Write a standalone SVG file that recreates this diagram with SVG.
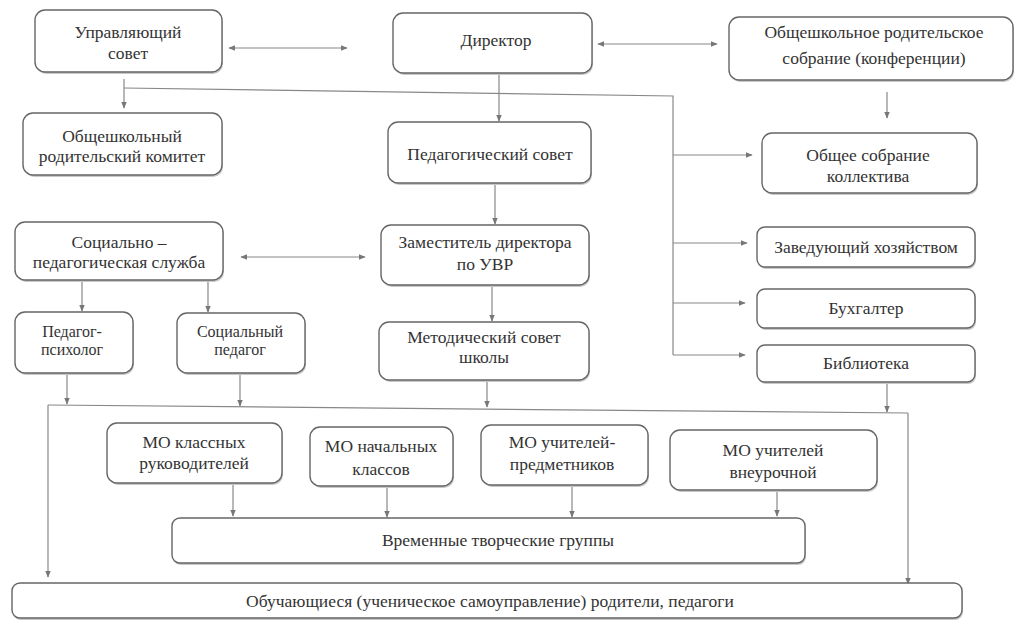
<svg xmlns="http://www.w3.org/2000/svg" width="1019" height="632" viewBox="0 0 1019 632">
<defs>
<marker id="ah" viewBox="0 0 10 10" refX="9" refY="5" markerWidth="7" markerHeight="7" orient="auto-start-reverse" markerUnits="userSpaceOnUse">
<path d="M0,1 L10,5 L0,9 z" fill="#777"/>
</marker>
</defs>
<rect width="1019" height="632" fill="#fff"/>

<g id="connectors" fill="none" stroke="#888" stroke-width="1.2">
<path marker-start="url(#ah)" marker-end="url(#ah)" d="M229,48 H347"/>
<path marker-start="url(#ah)" marker-end="url(#ah)" d="M598,44 H717"/>
<path marker-end="url(#ah)" d="M124,79 V108"/>
<path d="M124,88 L673,96 V355"/>
<path marker-end="url(#ah)" d="M499,73 V121"/>
<path marker-end="url(#ah)" d="M887,92 V118"/>
<path marker-end="url(#ah)" d="M673,155 H752"/>
<path marker-end="url(#ah)" d="M673,243 H747"/>
<path marker-end="url(#ah)" d="M673,303 H745"/>
<path marker-end="url(#ah)" d="M673,355 H745"/>
<path marker-end="url(#ah)" d="M495,183 V224"/>
<path marker-start="url(#ah)" marker-end="url(#ah)" d="M241,257 H365"/>
<path marker-end="url(#ah)" d="M82,280 V311"/>
<path marker-end="url(#ah)" d="M208,280 V312"/>
<path marker-end="url(#ah)" d="M492,285 V321"/>
<path marker-end="url(#ah)" d="M67,373 V404"/>
<path marker-end="url(#ah)" d="M240,373 V406"/>
<path marker-end="url(#ah)" d="M487,380 V407"/>
<path marker-end="url(#ah)" d="M887,382 V412"/>
<path d="M48,405 L908,413"/>
<path marker-end="url(#ah)" d="M48,405 V577"/>
<path marker-end="url(#ah)" d="M908,413 V584"/>
<path marker-end="url(#ah)" d="M233,483 V516"/>
<path marker-end="url(#ah)" d="M387,486 V517"/>
<path marker-end="url(#ah)" d="M572,485 V517"/>
<path marker-end="url(#ah)" d="M777,490 V516"/>
</g>

<g id="upr_sovet"><rect fill="#c8c8c8" x="36" y="12" width="187" height="62" rx="10"/><rect fill="#fff" stroke="#666" stroke-width="1.4" x="35" y="10" width="187" height="62" rx="10"/>
<text font-family="Liberation Serif" font-size="17.5" fill="#333" text-anchor="middle" x="128" y="38">Управляющий</text><text font-family="Liberation Serif" font-size="17.5" fill="#333" text-anchor="middle" x="128" y="59">совет</text></g>
<g id="direktor"><rect fill="#c8c8c8" x="394" y="15" width="199" height="60" rx="10"/><rect fill="#fff" stroke="#666" stroke-width="1.4" x="393" y="13" width="199" height="60" rx="10"/>
<text font-family="Liberation Serif" font-size="17.5" fill="#333" text-anchor="middle" x="496" y="46">Директор</text></g>
<g id="rod_sobranie"><rect fill="#c8c8c8" x="730" y="19" width="284" height="63" rx="10"/><rect fill="#fff" stroke="#666" stroke-width="1.4" x="729" y="17" width="284" height="63" rx="10"/>
<text font-family="Liberation Serif" font-size="17.5" fill="#333" text-anchor="middle" x="874" y="38">Общешкольное родительское</text><text font-family="Liberation Serif" font-size="17.5" fill="#333" text-anchor="middle" x="874" y="64">собрание (конференции)</text></g>
<g id="rod_komitet"><rect fill="#c8c8c8" x="24" y="115" width="199" height="62" rx="10"/><rect fill="#fff" stroke="#666" stroke-width="1.4" x="23" y="113" width="199" height="62" rx="10"/>
<text font-family="Liberation Serif" font-size="17.5" fill="#333" text-anchor="middle" x="122" y="142">Общешкольный</text><text font-family="Liberation Serif" font-size="17.5" fill="#333" text-anchor="middle" x="122" y="162">родительский комитет</text></g>
<g id="ped_sovet"><rect fill="#c8c8c8" x="389" y="124" width="203" height="61" rx="10"/><rect fill="#fff" stroke="#666" stroke-width="1.4" x="388" y="122" width="203" height="61" rx="10"/>
<text font-family="Liberation Serif" font-size="17.5" fill="#333" text-anchor="middle" x="490" y="160">Педагогический совет</text></g>
<g id="obsh_sobranie"><rect fill="#c8c8c8" x="763" y="135" width="215" height="60" rx="10"/><rect fill="#fff" stroke="#666" stroke-width="1.4" x="762" y="133" width="215" height="60" rx="10"/>
<text font-family="Liberation Serif" font-size="17.5" fill="#333" text-anchor="middle" x="868" y="161">Общее собрание</text><text font-family="Liberation Serif" font-size="17.5" fill="#333" text-anchor="middle" x="868" y="182">коллектива</text></g>
<g id="soc_ped_sluzhba"><rect fill="#c8c8c8" x="16" y="224" width="208" height="58" rx="10"/><rect fill="#fff" stroke="#666" stroke-width="1.4" x="15" y="222" width="208" height="58" rx="10"/>
<text font-family="Liberation Serif" font-size="17.5" fill="#333" text-anchor="middle" x="119" y="248">Социально –</text><text font-family="Liberation Serif" font-size="17.5" fill="#333" text-anchor="middle" x="119" y="268">педагогическая служба</text></g>
<g id="zam_dir"><rect fill="#c8c8c8" x="382" y="227" width="208" height="60" rx="10"/><rect fill="#fff" stroke="#666" stroke-width="1.4" x="381" y="225" width="208" height="60" rx="10"/>
<text font-family="Liberation Serif" font-size="17.5" fill="#333" text-anchor="middle" x="485" y="248">Заместитель директора</text><text font-family="Liberation Serif" font-size="17.5" fill="#333" text-anchor="middle" x="485" y="270">по УВР</text></g>
<g id="zav_hoz"><rect fill="#c8c8c8" x="758" y="229" width="218" height="40" rx="8"/><rect fill="#fff" stroke="#666" stroke-width="1.4" x="757" y="227" width="218" height="40" rx="8"/>
<text font-family="Liberation Serif" font-size="17.5" fill="#333" text-anchor="middle" x="866" y="253">Заведующий хозяйством</text></g>
<g id="ped_psiholog"><rect fill="#c8c8c8" x="16" y="314" width="118" height="61" rx="10"/><rect fill="#fff" stroke="#666" stroke-width="1.4" x="15" y="312" width="118" height="61" rx="10"/>
<text font-family="Liberation Serif" font-size="16" fill="#333" text-anchor="middle" x="72" y="337">Педагог-</text><text font-family="Liberation Serif" font-size="16" fill="#333" text-anchor="middle" x="72" y="355">психолог</text></g>
<g id="soc_pedagog"><rect fill="#c8c8c8" x="178" y="315" width="128" height="60" rx="10"/><rect fill="#fff" stroke="#666" stroke-width="1.4" x="177" y="313" width="128" height="60" rx="10"/>
<text font-family="Liberation Serif" font-size="16" fill="#333" text-anchor="middle" x="240" y="337">Социальный</text><text font-family="Liberation Serif" font-size="16" fill="#333" text-anchor="middle" x="240" y="355">педагог</text></g>
<g id="metod_sovet"><rect fill="#c8c8c8" x="380" y="324" width="210" height="58" rx="10"/><rect fill="#fff" stroke="#666" stroke-width="1.4" x="379" y="322" width="210" height="58" rx="10"/>
<text font-family="Liberation Serif" font-size="17.5" fill="#333" text-anchor="middle" x="484" y="343">Методический совет</text><text font-family="Liberation Serif" font-size="17.5" fill="#333" text-anchor="middle" x="484" y="363">школы</text></g>
<g id="buhgalter"><rect fill="#c8c8c8" x="758" y="291" width="218" height="39" rx="8"/><rect fill="#fff" stroke="#666" stroke-width="1.4" x="757" y="289" width="218" height="39" rx="8"/>
<text font-family="Liberation Serif" font-size="17.5" fill="#333" text-anchor="middle" x="866" y="314">Бухгалтер</text></g>
<g id="biblioteka"><rect fill="#c8c8c8" x="758" y="347" width="218" height="37" rx="8"/><rect fill="#fff" stroke="#666" stroke-width="1.4" x="757" y="345" width="218" height="37" rx="8"/>
<text font-family="Liberation Serif" font-size="17.5" fill="#333" text-anchor="middle" x="866" y="369">Библиотека</text></g>
<g id="mo_kl_ruk"><rect fill="#c8c8c8" x="108" y="425" width="175" height="60" rx="10"/><rect fill="#fff" stroke="#666" stroke-width="1.4" x="107" y="423" width="175" height="60" rx="10"/>
<text font-family="Liberation Serif" font-size="17.5" fill="#333" text-anchor="middle" x="194" y="448">МО классных</text><text font-family="Liberation Serif" font-size="17.5" fill="#333" text-anchor="middle" x="194" y="469">руководителей</text></g>
<g id="mo_nach"><rect fill="#c8c8c8" x="311" y="429" width="143" height="59" rx="10"/><rect fill="#fff" stroke="#666" stroke-width="1.4" x="310" y="427" width="143" height="59" rx="10"/>
<text font-family="Liberation Serif" font-size="17.5" fill="#333" text-anchor="middle" x="381" y="452">МО начальных</text><text font-family="Liberation Serif" font-size="17.5" fill="#333" text-anchor="middle" x="381" y="475">классов</text></g>
<g id="mo_predm"><rect fill="#c8c8c8" x="482" y="427" width="167" height="60" rx="10"/><rect fill="#fff" stroke="#666" stroke-width="1.4" x="481" y="425" width="167" height="60" rx="10"/>
<text font-family="Liberation Serif" font-size="17.5" fill="#333" text-anchor="middle" x="562" y="448">МО учителей-</text><text font-family="Liberation Serif" font-size="17.5" fill="#333" text-anchor="middle" x="562" y="470">предметников</text></g>
<g id="mo_vneur"><rect fill="#c8c8c8" x="671" y="432" width="207" height="60" rx="10"/><rect fill="#fff" stroke="#666" stroke-width="1.4" x="670" y="430" width="207" height="60" rx="10"/>
<text font-family="Liberation Serif" font-size="17.5" fill="#333" text-anchor="middle" x="773" y="456">МО учителей</text><text font-family="Liberation Serif" font-size="17.5" fill="#333" text-anchor="middle" x="773" y="478">внеурочной</text></g>
<g id="vrem_gruppy"><rect fill="#c8c8c8" x="173" y="520" width="633" height="45" rx="8"/><rect fill="#fff" stroke="#666" stroke-width="1.4" x="172" y="518" width="633" height="45" rx="8"/>
<text font-family="Liberation Serif" font-size="17.5" fill="#333" text-anchor="middle" x="498" y="546">Временные творческие группы</text></g>
<g id="obuchayushiesya"><rect fill="#c8c8c8" x="13" y="585" width="950" height="35" rx="8"/><rect fill="#fff" stroke="#666" stroke-width="1.4" x="12" y="583" width="950" height="35" rx="8"/>
<text font-family="Liberation Serif" font-size="17.5" fill="#333" text-anchor="middle" x="490" y="607">Обучающиеся (ученическое самоуправление) родители, педагоги</text></g>
</svg>
